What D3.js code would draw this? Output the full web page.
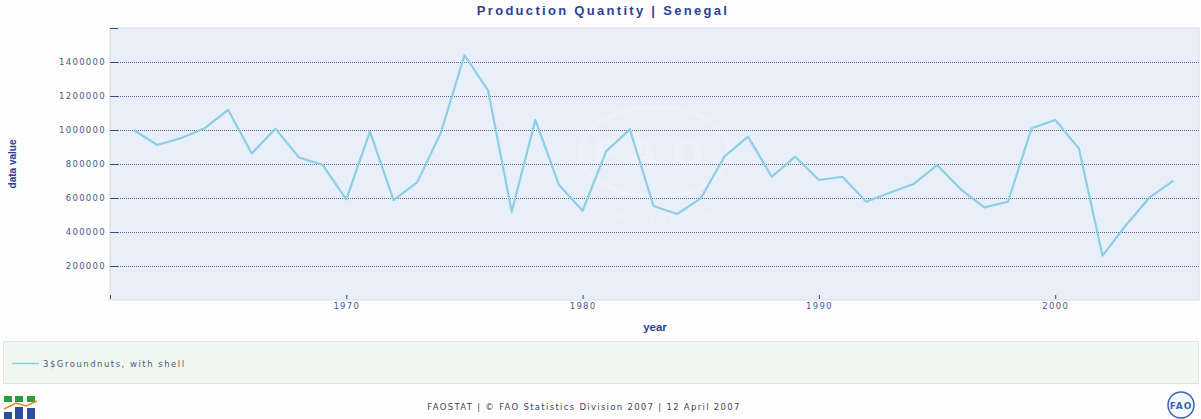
<!DOCTYPE html>
<html><head><meta charset="utf-8">
<script src="https://cdn.jsdelivr.net/npm/d3@7"></script>
<style>
html,body{margin:0;padding:0;background:#fdfdfd;}
svg{display:block;}
</style></head>
<body>
<svg id="chart" width="1201" height="419"></svg>
<script>
const years = [1961,1962,1963,1964,1965,1966,1967,1968,1969,1970,1971,1972,1973,1974,1975,1976,1977,1978,1979,1980,1981,1982,1983,1984,1985,1986,1987,1988,1989,1990,1991,1992,1993,1994,1995,1996,1997,1998,1999,2000,2001,2002,2003,2004,2005];
const values = [1000000,912000,952000,1010000,1118000,862000,1008000,838000,795000,592000,990000,588000,692000,984000,1440000,1233000,519000,1059000,676000,525000,876000,1004000,553000,506000,598000,843000,961000,725000,843000,706000,725000,578000,631000,682000,794000,651000,545000,578000,1010000,1059000,892000,261000,441000,604000,702000];
const yTicks = [200000,400000,600000,800000,1000000,1200000,1400000];
const xTicks = [1960,1970,1980,1990,2000];
const xLabels = ["","1970","1980","1990","2000"];
const seriesName = "3$Groundnuts, with shell";
const title = "Production Quantity | Senegal";
const footer = "FAOSTAT | © FAO Statistics Division 2007 | 12 April 2007";

const svg = d3.select("#chart");
const L = 110, R = 1199, T = 28, B = 300;
const x = d3.scaleLinear().domain([1960, 2006]).range([L, 1197]);
const y = d3.scaleLinear().domain([0, 1600000]).range([B, T]);

// background
svg.append("rect").attr("x",0).attr("y",0).attr("width",1201).attr("height",419).attr("fill","#fdfdfd");
svg.append("rect").attr("x",L).attr("y",T).attr("width",R-L).attr("height",B-T)
  .attr("fill","#e9eff9").attr("stroke","#d6dbe3").attr("stroke-width",1);

// title
svg.append("text").attr("x",603).attr("y",15).attr("text-anchor","middle")
  .attr("font-family","Liberation Sans, Arial, sans-serif").attr("font-weight","bold")
  .attr("font-size",13).attr("letter-spacing",2.3).attr("fill","#2c4394").text(title);

// watermark
const wm = svg.append("g").attr("opacity",0.4);
wm.append("ellipse").attr("cx",655).attr("cy",152).attr("rx",74).attr("ry",45)
  .attr("fill","none").attr("stroke","#f3f5f9").attr("stroke-width",4);
wm.append("text").attr("x",655).attr("y",166).attr("text-anchor","middle")
  .attr("font-family","DejaVu Sans, sans-serif").attr("font-weight","bold").attr("font-size",38)
  .attr("letter-spacing",14).attr("fill","#f3f5f9").text("FAO");
wm.append("text").attr("x",655).attr("y",221).attr("text-anchor","middle")
  .attr("font-family","DejaVu Sans, sans-serif").attr("font-weight","bold").attr("font-size",12)
  .attr("letter-spacing",2).attr("fill","#f3f5f9").text("© FAOSTAT 2006");

// gridlines
svg.append("g").selectAll("line").data(yTicks).join("line")
  .attr("x1",L).attr("x2",R).attr("y1",d=>y(d)+0.5).attr("y2",d=>y(d)+0.5)
  .attr("stroke","#5a6690").attr("stroke-width",1).attr("stroke-dasharray","1,1");

// y axis
const yAxis = d3.axisLeft(y).tickValues(yTicks).tickSize(0).tickPadding(4).tickFormat(d3.format("d"));
const gy = svg.append("g").attr("transform",`translate(${L},0)`).call(yAxis);
gy.select(".domain").remove();
gy.selectAll("text").attr("font-family","DejaVu Sans, sans-serif").attr("font-size",8.5)
  .attr("letter-spacing",1.3).attr("fill","#4a5a8c");
svg.append("g").selectAll("line").data(yTicks.concat([1600000])).join("line")
  .attr("x1",L).attr("x2",L+8).attr("y1",d=>y(d)+0.5).attr("y2",d=>y(d)+0.5)
  .attr("stroke","#3b4a7a").attr("stroke-width",1);

// x axis
const xAxis = d3.axisBottom(x).tickValues(xTicks).tickSize(0).tickPadding(3)
  .tickFormat((d,i)=>xLabels[i]);
const gx = svg.append("g").attr("transform",`translate(0,${B})`).call(xAxis);
gx.select(".domain").remove();
gx.selectAll("text").attr("font-family","DejaVu Sans, sans-serif").attr("font-size",8.5)
  .attr("letter-spacing",1.3).attr("fill","#4a5a8c");
svg.append("g").selectAll("line").data(xTicks).join("line")
  .attr("x1",d=>x(d)+0.5).attr("x2",d=>x(d)+0.5).attr("y1",B-5).attr("y2",B-1)
  .attr("stroke","#3b4a7a").attr("stroke-width",1);

// axis titles
svg.append("text").attr("x",655).attr("y",331).attr("text-anchor","middle")
  .attr("font-family","Liberation Sans, Arial, sans-serif").attr("font-weight","bold")
  .attr("font-size",11.5).attr("fill","#2c4394").text("year");
svg.append("text").attr("transform","translate(16,164) rotate(-90)").attr("text-anchor","middle")
  .attr("font-family","Liberation Sans Narrow, Liberation Sans, sans-serif").attr("font-weight","bold")
  .attr("font-size",10).attr("fill","#2c4394").text("data value");

// line
const data = years.map((yr,i)=>({yr, v: values[i]}));
svg.append("path").datum(data)
  .attr("d", d3.line().x(d=>x(d.yr)).y(d=>y(d.v)))
  .attr("fill","none").attr("stroke","#8ccfe4").attr("stroke-width",2.2).attr("stroke-linejoin","round");

// legend
svg.append("rect").attr("x",3.5).attr("y",341.5).attr("width",1195).attr("height",42)
  .attr("fill","#eef8f1").attr("stroke","#dfe5e2").attr("stroke-width",1);
svg.append("line").attr("x1",12).attr("x2",39).attr("y1",363.5).attr("y2",363.5)
  .attr("stroke","#8ccfe4").attr("stroke-width",1.5);
svg.append("text").attr("x",43).attr("y",366.5)
  .attr("font-family","DejaVu Sans, sans-serif").attr("font-size",8.5).attr("letter-spacing",1.5)
  .attr("fill","#4d5a78").text(seriesName);

// footer
svg.append("text").attr("x",584).attr("y",410).attr("text-anchor","middle")
  .attr("font-family","DejaVu Sans, sans-serif").attr("font-size",8.5).attr("letter-spacing",1.3)
  .attr("fill","#3b4560").text(footer);

// FAOSTAT logo (left)
const lg = svg.append("g");
[[4,396],[15,396],[27,396]].forEach(([a,b])=>lg.append("rect").attr("x",a).attr("y",b).attr("width",8).attr("height",6).attr("fill","#2e9c3e"));
lg.append("path").attr("d","M4,409 L16,403 L26,406 L37,401").attr("fill","none").attr("stroke","#e68a2e").attr("stroke-width",1.5);
[[4,412,7],[15,407,12],[27,408,11]].forEach(([a,b,h])=>lg.append("rect").attr("x",a).attr("y",b).attr("width",8).attr("height",h).attr("fill","#2b4f9c"));

// FAO logo (right)
const fl = svg.append("g");
fl.append("circle").attr("cx",1181).attr("cy",405).attr("r",13).attr("fill","#f4f7fc").attr("stroke","#3d63b0").attr("stroke-width",1.5);
fl.append("text").attr("x",1181).attr("y",409).attr("text-anchor","middle")
  .attr("font-family","DejaVu Sans, sans-serif").attr("font-weight","bold").attr("font-size",9)
  .attr("letter-spacing",1).attr("fill","#3d63b0").text("FAO");
</script>
</body></html>
